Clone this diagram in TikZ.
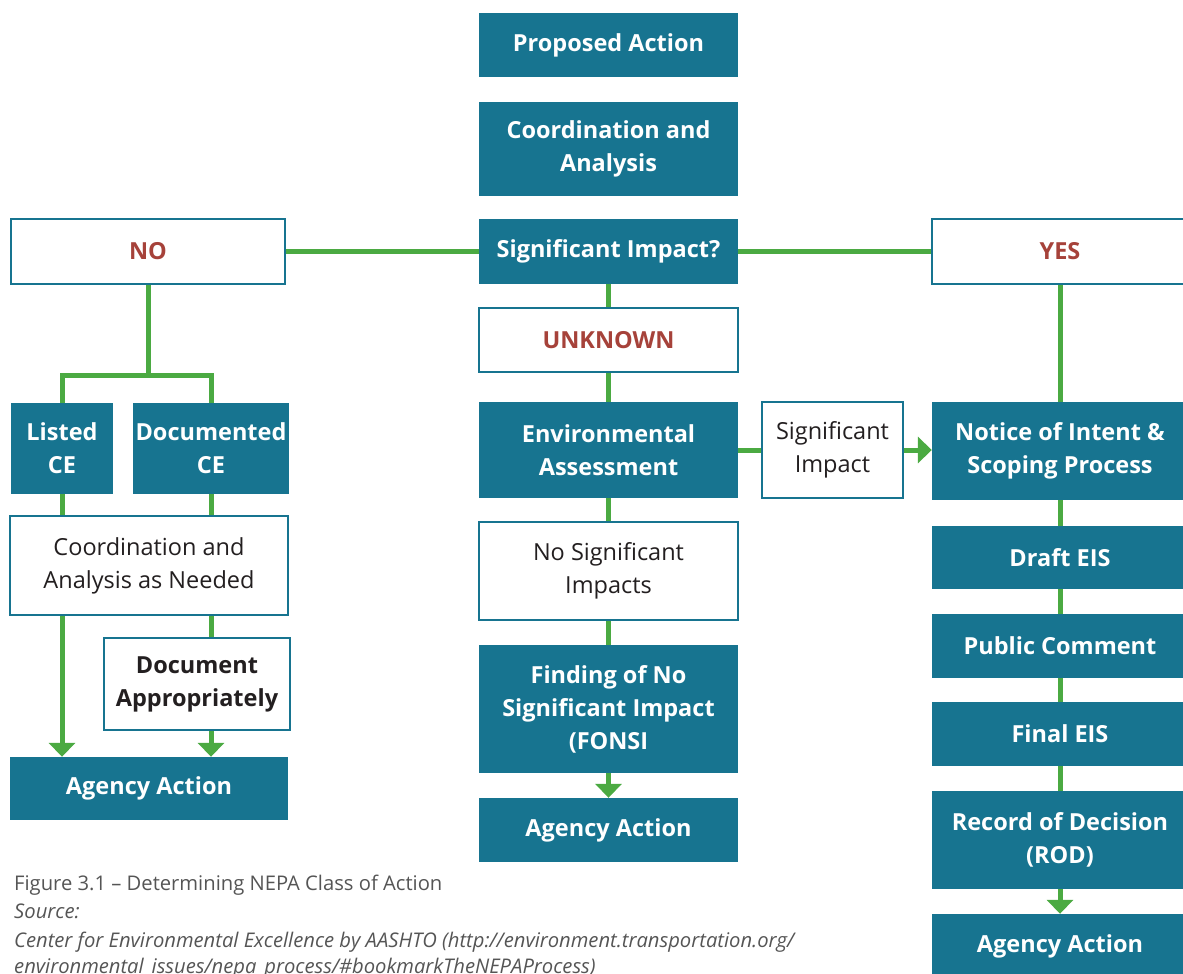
\documentclass[tikz,border=0pt]{standalone}
\usepackage{fontspec}
\setmainfont{Open Sans}
\usetikzlibrary{arrows.meta}
\definecolor{nepateal}{HTML}{177490}
\definecolor{nepagreen}{HTML}{4BAA42}
\definecolor{nepared}{HTML}{A6423A}
\definecolor{nepaink}{HTML}{231F20}
\definecolor{nepagray}{HTML}{555555}
\tikzset{
  tealbox/.style={fill=nepateal, text=white, align=center, inner sep=0pt,
    font=\fontsize{23.5}{33}\selectfont\bfseries},
  whitebox/.style={draw=nepateal, line width=2pt, fill=white, text=nepaink,
    align=center, inner sep=0pt, font=\fontsize{23.5}{33}\selectfont},
  answer/.style={whitebox, text=nepared, font=\fontsize{23.5}{33}\selectfont\bfseries},
  link/.style={draw=nepagreen, line width=5pt},
  flow/.style={link, -{Triangle[width=26pt,length=14pt]}},
  caption/.style={anchor=base west, inner sep=0pt, text=nepagray,
    font=\fontsize{20.2}{28}\selectfont}
}
\begin{document}
\begin{tikzpicture}[x=1pt,y=-1pt]
  \path[use as bounding box, clip] (0,0) rectangle (1183,974);
  % Centre column
  \node[tealbox, minimum width=259pt, minimum height=64pt] (prop) at (608.5,45) {Proposed Action};
  \node[tealbox, minimum width=259pt, minimum height=94pt] (coord) at (608.5,149) {Coordination and\\Analysis};
  \node[tealbox, minimum width=259pt, minimum height=65pt] (sig) at (608.5,251.5) {Significant Impact?};
  \node[answer, minimum width=259pt, minimum height=64pt] (unknown) at (608.5,340) {UNKNOWN};
  \node[tealbox, minimum width=259pt, minimum height=96pt] (ea) at (608.5,450) {Environmental\\Assessment};
  \node[whitebox, minimum width=259pt, minimum height=98pt] (nsi) at (608.5,571) {No Significant\\Impacts};
  \node[tealbox, minimum width=259pt, minimum height=128pt] (fonsi) at (608.5,709) {Finding of No\\Significant Impact\\(FONSI};
  \node[tealbox, minimum width=259pt, minimum height=64pt] (agencyC) at (608.5,830) {Agency Action};
  \node[whitebox, minimum width=141pt, minimum height=96pt] (sigimp) at (832.5,450) {Significant\\Impact};
  % Left column
  \node[answer, minimum width=274pt, minimum height=65pt] (no) at (148,251.5) {NO};
  \node[tealbox, minimum width=102pt, minimum height=91pt] (listed) at (62,448.5) {Listed\\CE};
  \node[tealbox, minimum width=156pt, minimum height=91pt] (documented) at (211,448.5) {Documented\\CE};
  \node[whitebox, minimum width=278pt, minimum height=99pt] (coordneed) at (149,565.5) {Coordination and\\Analysis as Needed};
  \node[whitebox, minimum width=186pt, minimum height=92pt, font=\fontsize{23.5}{33}\selectfont\bfseries] (docapp) at (197,684) {Document\\Appropriately};
  \node[tealbox, minimum width=278pt, minimum height=63pt] (agencyL) at (149,788.5) {Agency Action};
  % Right column
  \node[answer, minimum width=256pt, minimum height=65pt] (yes) at (1060,251.5) {YES};
  \node[tealbox, minimum width=256pt, minimum height=98pt] (noi) at (1060,451) {Notice of Intent \&\\Scoping Process};
  \node[tealbox, minimum width=256pt, minimum height=63pt] (draft) at (1060,557.5) {Draft EIS};
  \node[tealbox, minimum width=256pt, minimum height=64pt] (public) at (1060,646) {Public Comment};
  \node[tealbox, minimum width=256pt, minimum height=64pt] (final) at (1060,734) {Final EIS};
  \node[tealbox, minimum width=256pt, minimum height=98pt] (rod) at (1060,840) {Record of Decision\\(ROD)};
  \node[tealbox, minimum width=256pt, minimum height=64pt] (agencyR) at (1060,946) {Agency Action};
  % Connectors
  \coordinate (split) at (148,375);
  \draw[link] (no) -- (sig);
  \draw[link] (sig) -- (yes);
  \draw[link] (no) -- (split);
  \draw[link] (split) -| (listed);
  \draw[link] (split) -| (documented);
  \draw[link] (listed) -- (listed |- coordneed.north);
  \draw[link] (documented) -- (documented |- coordneed.north);
  \draw[flow] (coordneed.south -| listed) -- (agencyL.north -| listed);
  \draw[link] (coordneed.south -| documented) -- (docapp.north -| documented);
  \draw[flow] (docapp.south -| documented) -- (agencyL.north -| documented);
  \draw[link] (sig) -- (unknown);
  \draw[link] (unknown) -- (ea);
  \draw[link] (ea) -- (nsi);
  \draw[link] (nsi) -- (fonsi);
  \draw[flow] (fonsi) -- (agencyC);
  \draw[link] (ea) -- (sigimp);
  \draw[flow] (sigimp) -- (noi.west |- sigimp);
  \draw[link] (yes) -- (noi);
  \foreach \a/\b in {noi/draft, draft/public, public/final, final/rod} {
    \draw[link] (\a) -- (\b);
  }
  \draw[flow] (rod) -- (agencyR);
  % Caption
  \node[caption] (cap1) at (14,890) {Figure 3.1 – Determining NEPA Class of Action};
  \node[caption, font=\fontsize{20.2}{28}\selectfont\itshape] (cap2) at (14,918) {Source:};
  \node[caption, font=\fontsize{20.2}{28}\selectfont\itshape] (cap3) at (14,947) {Center for Environmental Excellence by AASHTO (http://environment.transportation.org/};
  \node[caption, font=\fontsize{20.2}{28}\selectfont\itshape] (cap4) at (14,973) {environmental\_issues/nepa\_process/\#bookmarkTheNEPAProcess)};
\end{tikzpicture}
\end{document}
